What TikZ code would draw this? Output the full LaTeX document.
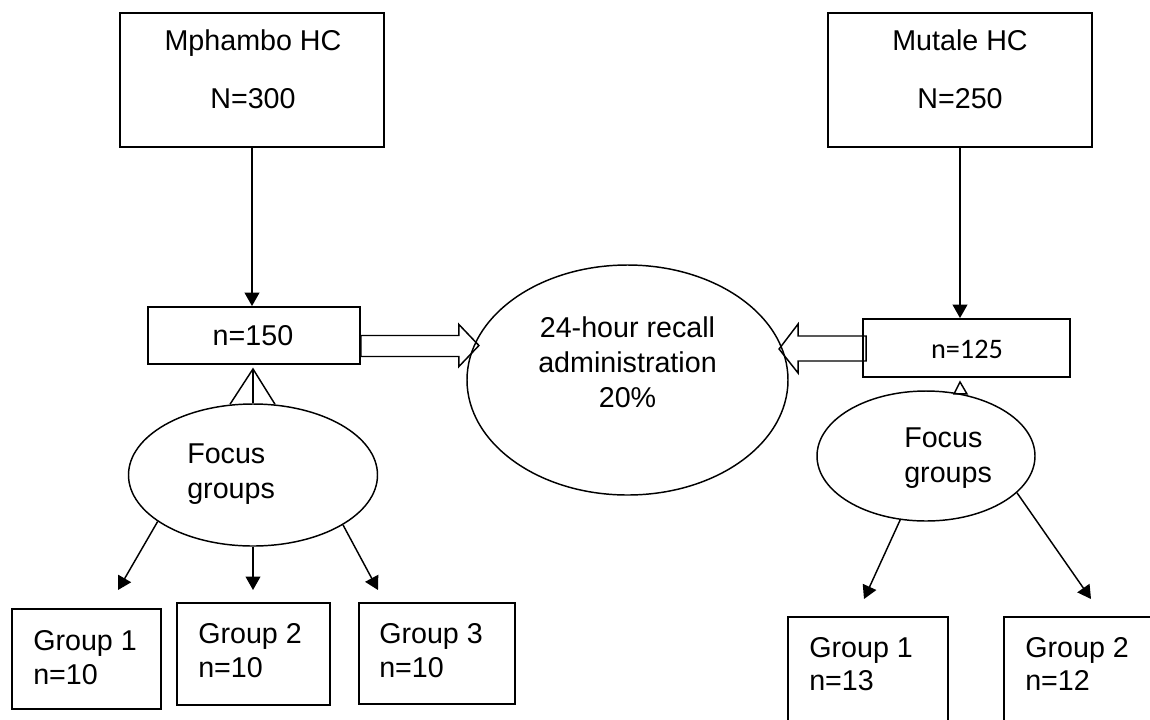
\documentclass[tikz,border=0pt]{standalone}
\usepackage{fontspec}
\setmainfont{Liberation Sans}
\newfontfamily\calibrifont{Carlito}
\usetikzlibrary{shapes.geometric,arrows.meta,calc}
\def\PX{0.75pt}
\begin{document}
\begin{tikzpicture}[x=0.75pt,y=-0.75pt,
  every node/.style={font=\fontsize{21.5pt}{26pt}\selectfont},
  box/.style={draw,line width=1.4pt,inner sep=0pt},
  oval/.style={draw,ellipse,line width=1.1pt,inner sep=0pt},
  txt/.style={inner sep=0pt,anchor=base},
  ltxt/.style={inner sep=0pt,anchor=base west},
  arr/.style={line width=1.1pt,-{Triangle[width=11pt,length=10pt]}},
  hollow/.style={line width=1.1pt,line join=miter},
  thinline/.style={line width=1.1pt}]
\useasboundingbox (0,0) rectangle (1150,719);
% top boxes
\node[box,minimum width=264*\PX,minimum height=134*\PX] (m1) at (252,80) {};
\node[box,minimum width=264*\PX,minimum height=134*\PX] (m2) at (960,80) {};
\node[txt] (m1a) at (253,50) {Mphambo HC};
\node[txt] (m1b) at (253,108) {N=300};
\node[txt] (m2a) at (960,50) {Mutale HC};
\node[txt] (m2b) at (960,108) {N=250};
% sample boxes
\node[box,minimum width=212*\PX,minimum height=57*\PX] (b1) at (254,335.5) {};
\node[txt] (b1t) at (253,345) {n=150};
\node[box,minimum width=207*\PX,minimum height=58*\PX] (b2) at (966.5,348) {};
\node[txt,font=\calibrifont\fontsize{21.2pt}{26pt}\selectfont] (b2t) at (967,358) {n=125};
% ellipses
\node[oval,minimum width=321*\PX,minimum height=230*\PX] (e0) at (627.5,380) {};
\node[txt] (e0a) at (627.5,337) {24-hour recall};
\node[txt] (e0b) at (627.5,372) {administration};
\node[txt] (e0c) at (627.5,407) {20\%};
\node[oval,minimum width=249*\PX,minimum height=142*\PX] (e1) at (253,475) {};
\node[ltxt] (e1a) at (187,463) {Focus};
\node[ltxt] (e1b) at (187,498) {groups};
\node[oval,minimum width=218*\PX,minimum height=130*\PX] (e2) at (926,456) {};
\node[ltxt] (e2a) at (904,447) {Focus};
\node[ltxt] (e2b) at (904,482) {groups};
% group boxes
\node[box,minimum width=149*\PX,minimum height=100*\PX] (g1) at (86.5,659) {};
\node[ltxt] (g1a) at (33,650) {Group 1};
\node[ltxt] (g1b) at (33,684) {n=10};
\node[box,minimum width=153*\PX,minimum height=102*\PX] (g2) at (253.5,654) {};
\node[ltxt] (g2a) at (198,643) {Group 2};
\node[ltxt] (g2b) at (198,677) {n=10};
\node[box,minimum width=156*\PX,minimum height=101*\PX] (g3) at (437,653.5) {};
\node[ltxt] (g3a) at (379,643) {Group 3};
\node[ltxt] (g3b) at (379,677) {n=10};
\node[box,minimum width=160*\PX,minimum height=123*\PX] (h1) at (868,678.5) {};
\node[ltxt] (h1a) at (809,657) {Group 1};
\node[ltxt] (h1b) at (809,690) {n=13};
\node[box,minimum width=161*\PX,minimum height=123*\PX] (h2) at (1084.5,678.5) {};
\node[ltxt] (h2a) at (1025,657) {Group 2};
\node[ltxt] (h2b) at (1025,690) {n=12};
% vertical arrows from HCs
\draw[arr] (m1.south) -- (m1.south |- b1.north);
\draw[arr] (m2.south) -- (m2.south |- b2.north);
% triangle connectors
\coordinate (ap1) at ($(e1.north |- b1.south)+(0,4)$);
\draw[thinline] (e1.north) -- (ap1);
\draw[thinline] ($(e1.north)+(-23,1)$) -- (ap1) -- ($(e1.north)+(22,1)$);
\coordinate (ap2) at ($(m2.south |- b2.south)+(0,4)$);
\draw[thinline] (ap2) -- ++(-6,12) -- ++(13,0) -- cycle;
% hollow block arrows
\draw[hollow] (b1.east) -- ++(98,0) -- ++(0,-11) -- ++(20,21) -- ++(-20,21) -- ++(0,-10) -- ++(-98,0) -- cycle;
\draw[hollow] ($(b2.west)+(4,-12)$) -- ++(-68,0) -- ++(0,-12) -- ++(-19,25) -- ++(19,24) -- ++(0,-12) -- ++(68,0) -- cycle;
% arrows to groups
\coordinate (a1) at (118,590);
\coordinate (a2) at (253,590);
\coordinate (a3) at (378,590);
\coordinate (a4) at (864,599);
\coordinate (a5) at (1091,599);
\draw[arr] (e1.206) -- (a1);
\draw[arr] (e1.south) -- (a2);
\draw[arr] (e1.331) -- (a3);
\draw[arr] (e2.248) -- (a4);
\draw[arr] (e2.-22) -- (a5);
\end{tikzpicture}
\end{document}
